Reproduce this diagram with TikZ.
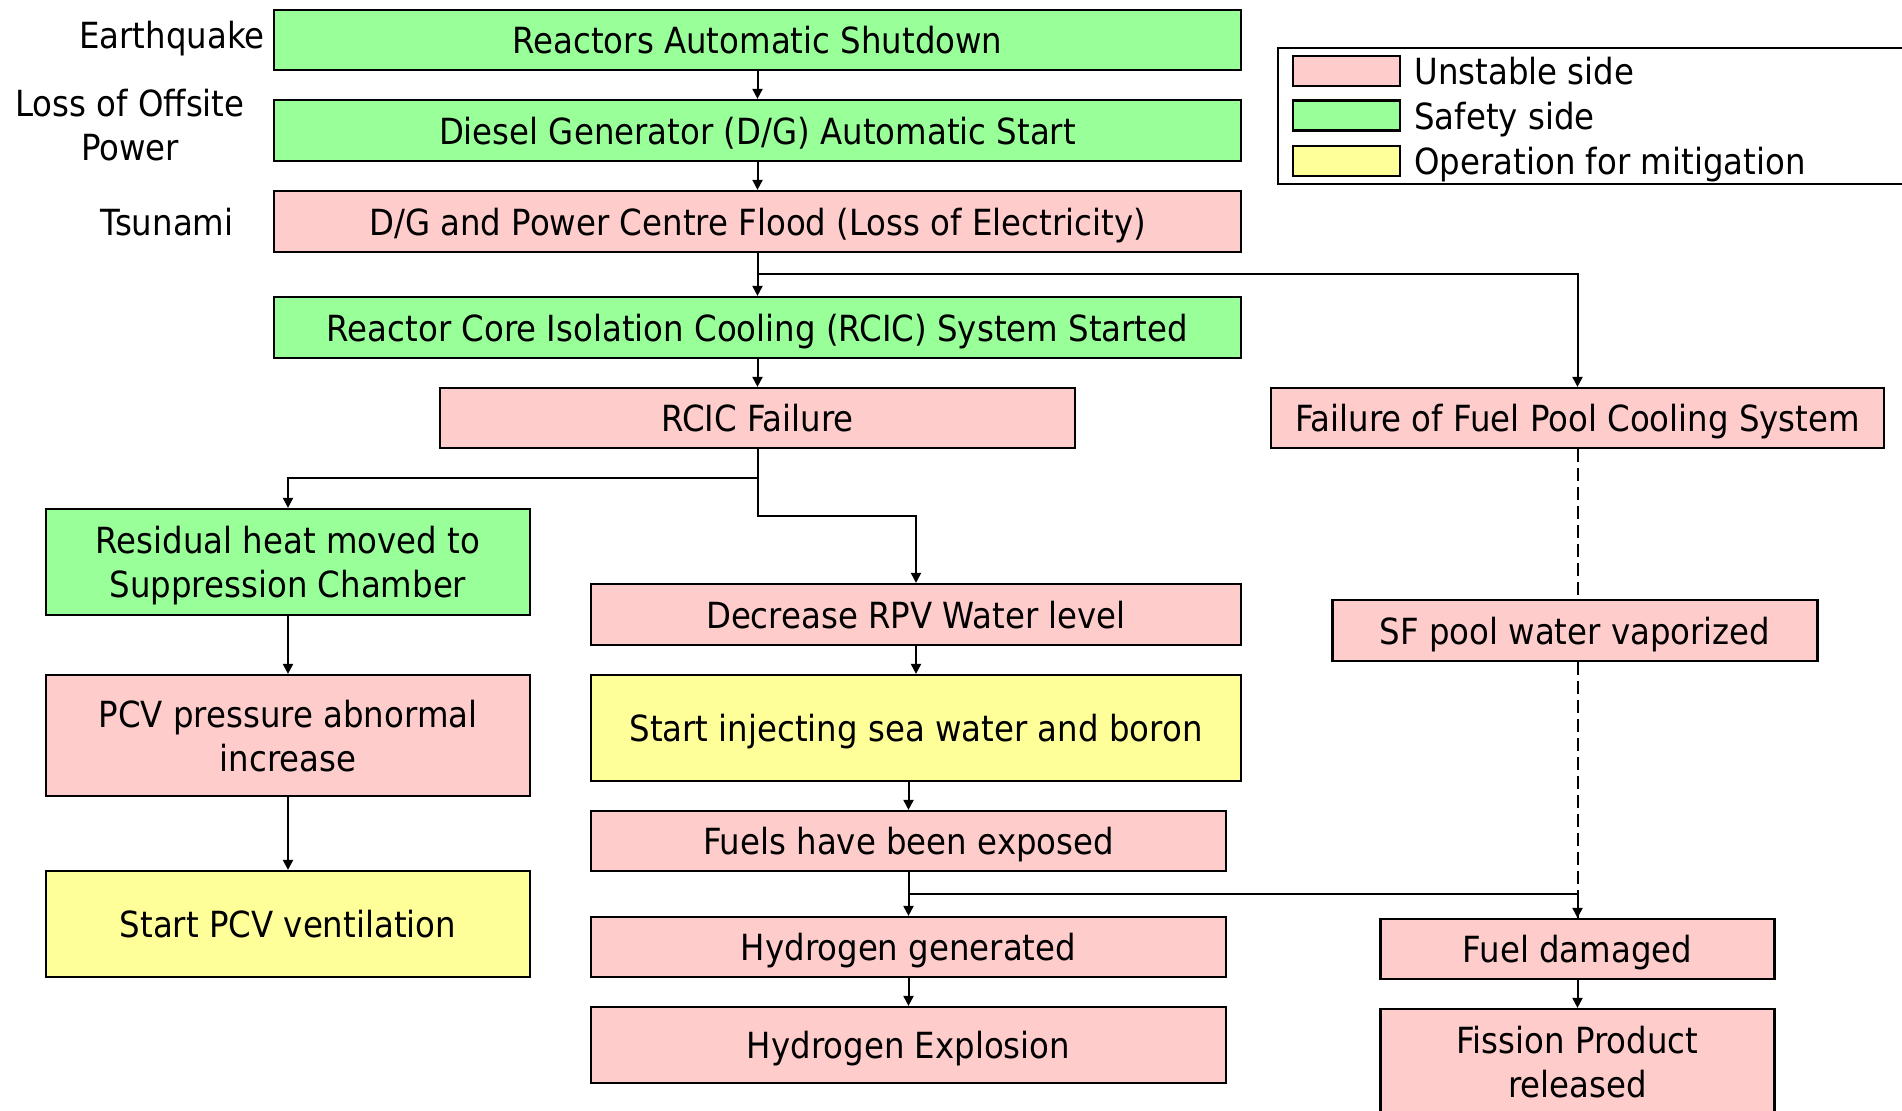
\documentclass[tikz,border=0pt]{standalone}
\usepackage{fontspec}
\setmainfont{DejaVu Sans}[FakeStretch=0.9]
\usetikzlibrary{arrows.meta,positioning}
\definecolor{unstablecol}{HTML}{FFCCCC}
\definecolor{safecol}{HTML}{99FF99}
\definecolor{mitigcol}{HTML}{FFFF99}

\begin{document}
\begin{tikzpicture}[x=.5pt,y=-.5pt,
	box/.style={draw,line width=1.1pt,inner sep=0pt,align=center,text depth=0pt,font=\fontsize{18}{22}\selectfont},
	unstable/.style={box,fill=unstablecol},
	safety/.style={box,fill=safecol},
	mitig/.style={box,fill=mitigcol},
	flow/.style={-{Triangle[length=5pt,width=5pt]},line width=1pt},
	pooldash/.style={line width=1pt,dash pattern=on 6.5pt off 3pt},
	lbl/.style={inner sep=0pt,font=\fontsize{18}{22}\selectfont,align=center}]
		\useasboundingbox (0,0) rectangle (1902,1110);
		% causes
		\node[lbl,anchor=east] (quake) at (265,38.5) {Earthquake};
		\node[lbl] (offsite) at (130,125) {Loss of Offsite\\Power};
		\node[lbl] (tsunami) at (167,222) {Tsunami};
		% main column
		\node[safety,minimum width=483.5pt,minimum height=30pt] (shut) at (757.5,40) {Reactors Automatic Shutdown};
		\node[safety,minimum width=483.5pt,minimum height=30.5pt] (dg) at (757.5,130.5) {Diesel Generator (D/G) Automatic Start};
		\node[unstable,minimum width=483.5pt,minimum height=30.5pt] (flood) at (757.5,221.5) {D/G and Power Centre Flood (Loss of Electricity)};
		\node[safety,minimum width=483.5pt,minimum height=30.5pt] (rcic) at (757.5,327.5) {Reactor Core Isolation Cooling (RCIC) System Started};
		\node[unstable,minimum width=317.5pt,minimum height=30pt] (fail) at (757.5,418) {RCIC Failure};
		% left column
		\node[safety,minimum width=242pt,minimum height=53pt] (resid) at (288,562) {Residual heat moved to\\Suppression Chamber};
		\node[unstable,minimum width=242pt,minimum height=60.5pt] (pcv) at (288,735.5) {PCV pressure abnormal\\increase};
		\node[mitig,minimum width=242pt,minimum height=53pt] (vent) at (288,924) {Start PCV ventilation};
		% middle column
		\node[unstable,minimum width=325pt,minimum height=30.5pt] (rpv) at (916,614.5) {Decrease RPV Water level};
		\node[mitig,minimum width=325pt,minimum height=53pt] (inject) at (916,728) {Start injecting sea water and boron};
		\node[unstable,minimum width=317.5pt,minimum height=30pt] (exposed) at (908.5,841) {Fuels have been exposed};
		\node[unstable,minimum width=317.5pt,minimum height=30pt] (h2gen) at (908.5,947) {Hydrogen generated};
		\node[unstable,minimum width=317.5pt,minimum height=38pt] (h2exp) at (908.5,1045) {Hydrogen Explosion};
		% right column
		\node[unstable,minimum width=306.5pt,minimum height=30pt] (pool) at (1577.5,418) {Failure of Fuel Pool Cooling System};
		\node[unstable,minimum width=242.5pt,minimum height=30.5pt] (sfpool) at (1575,630.5) {SF pool water vaporized};
		\node[unstable,minimum width=197pt,minimum height=30pt] (fueldmg) at (1577.5,949) {Fuel damaged};
		\node[unstable,minimum width=197pt,minimum height=53pt] (fission) at (1577.5,1062) {Fission Product\\released};
		% legend
		\draw[line width=1.1pt] (1278,48) rectangle (1915,184);
		\foreach \sty/\yy/\txt in {unstable/71/Unstable side,safety/115.5/Safety side,mitig/161/Operation for mitigation} {
			\node[\sty,minimum width=53.5pt,minimum height=15pt] (key\sty) at (1346.5,\yy) {};
			\node[lbl,anchor=west,text depth=0pt] (keytxt\sty) at (1414,\yy) {\txt};
		}
		% connectors
		\coordinate (poolsplit) at (757.5,274);
		\coordinate (failsplit) at (757.5,478);
		\coordinate (rpvsplit) at (757.5,516);
		\coordinate (dmgsplit) at (908.5,894);
		\draw[flow] (shut) -- (dg);
		\draw[flow] (dg) -- (flood);
		\draw[flow] (flood) -- (rcic);
		\draw[flow] (poolsplit) -| (pool.north);
		\draw[flow] (rcic) -- (fail);
		\draw[flow] (fail.south) -- (rpvsplit) -| (rpv.north);
		\draw[flow] (failsplit) -| (resid.north);
		\draw[flow] (resid) -- (pcv);
		\draw[flow] (pcv) -- (vent);
		\draw[flow] (rpv) -- (inject);
		\draw[flow] (inject.south -| exposed.north) -- (exposed.north);
		\draw[flow] (exposed) -- (h2gen);
		\draw[flow] (dmgsplit) -| (fueldmg.north);
		\draw[flow] (h2gen) -- (h2exp);
		\draw[flow] (fueldmg) -- (fission);
		\draw[pooldash] (pool.south) -- (sfpool.north -| pool.south);
		\draw[pooldash] (sfpool.south -| pool.south) -- (fueldmg.north);
	\end{tikzpicture}
\end{document}
